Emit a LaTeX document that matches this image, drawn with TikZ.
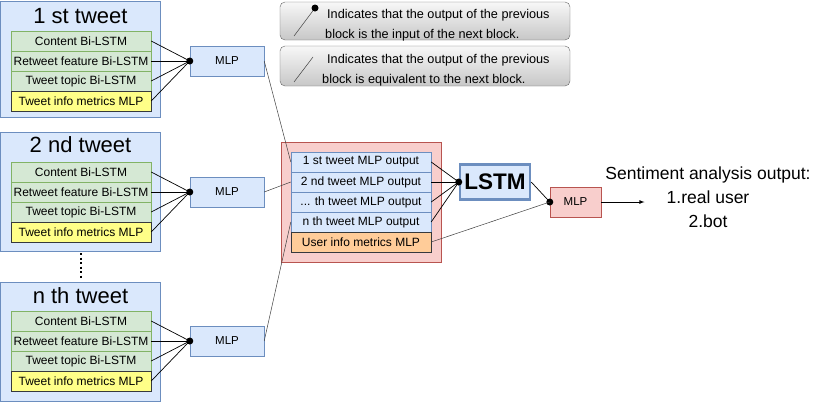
\documentclass[tikz,border=0pt]{standalone}
\usepackage{fontspec}
\setmainfont{Liberation Sans}
\usetikzlibrary{positioning,fit,arrows}
\pgfdeclarelayer{background}
\pgfsetlayers{background,main}

\definecolor{bluefill}{HTML}{DAE8FC}
\definecolor{blueline}{HTML}{6C8EBF}
\definecolor{greenfill}{HTML}{D5E8D4}
\definecolor{greenline}{HTML}{82B366}
\definecolor{yellowfill}{HTML}{FFFF88}
\definecolor{darkline}{HTML}{36393D}
\definecolor{pinkfill}{HTML}{F8CECC}
\definecolor{redline}{HTML}{B85450}
\definecolor{orangefill}{HTML}{FFCC99}

\begin{document}
\begin{tikzpicture}[x=1pt, y=-1pt,
		every node/.style={on grid},
		tweet/.style={draw=blueline, fill=bluefill, minimum width=160pt, minimum height=119pt, inner sep=0pt},
		tweettitle/.style={font=\fontsize{22}{26}\selectfont},
		rowbox/.style={draw, minimum width=140pt, minimum height=20pt, inner sep=0pt, font=\fontsize{12}{14}\selectfont},
		bilstm/.style={rowbox, draw=greenline, fill=greenfill},
		metrics/.style={rowbox, draw=darkline, fill=yellowfill},
		mlpout/.style={rowbox, draw=blueline, fill=bluefill},
		usermetrics/.style={rowbox, draw=darkline, fill=orangefill},
		mlp/.style={draw=blueline, fill=bluefill, minimum width=74pt, minimum height=30pt, font=\fontsize{11.5}{13}\selectfont},
		mlpfinal/.style={draw=redline, fill=pinkfill, minimum width=51pt, minimum height=30pt, font=\fontsize{11.5}{13}\selectfont},
		lstmbox/.style={draw=blueline, line width=2.5pt, fill=bluefill, minimum width=70pt, minimum height=35pt, inner sep=0pt, font=\bfseries\fontsize{22.5}{26}\selectfont},
		joint/.style={fill=black, circle, inner sep=0pt, minimum size=7pt},
		link/.style={draw=black!75, line width=0.5pt},
		feed/.style={draw=black, line width=0.7pt},
		ellipsisline/.style={line width=2pt, dash pattern=on 2pt off 2.5pt, shorten <=2pt, shorten >=2pt},
		legendbox/.style={draw=black!60, rounded corners=5pt, top color=black!3, bottom color=black!22, minimum width=290pt},
		legtext/.style={align=left, inner sep=0pt, font=\fontsize{12.7}{20}\selectfont},
		node distance=20pt,
		>=latex]
	\useasboundingbox (0,0) rectangle (821,402);
	
	% legend
	\node[legendbox, minimum height=38pt] (leg1) at (425,21) {};
	\node[legendbox, minimum height=40pt, below=45pt of leg1] (leg2) {};
	\node[legtext, anchor=west] (leg1txt) at (325,25) {\hspace{2pt}Indicates that the output of the previous\\block is the input of the next block.};
	\node[legtext, anchor=west] (leg2txt) at (322,70) {\hspace{5pt}Indicates that the output of the previous\\block is equivalent to the next block.};
	\coordinate (l1a) at (294,36);
	\coordinate (l1b) at (315,8);
	\coordinate (l2a) at (294,82);
	\coordinate (l2b) at (313,57);
	\draw[link] (l1a) -- (l1b);
	\node[joint] (l1dot) at (l1b) {};
	\draw[link] (l2a) -- (l2b);
	
	% 1 st tweet
	\node[tweet, minimum height=116pt] (t1) at (80.5,59) {};
	\node[tweettitle] (t1h) at (80.5,16) {1 st tweet};
	\node[bilstm] (t1c) at (81,41) {Content Bi-LSTM};
	\node[bilstm, below=of t1c] (t1r) {Retweet feature Bi-LSTM};
	\node[bilstm, below=of t1r] (t1t) {Tweet topic Bi-LSTM};
	\node[metrics, below=of t1t] (t1m) {Tweet info metrics MLP};
	\node[mlp, right=146pt of t1r] (m1) {MLP};
	\node[joint] (j1) at (m1.west) {};
	
	% 2 nd tweet
	\node[tweet] (t2) at (80.5,191.5) {};
	\node[tweettitle] (t2h) at (80.5,145) {2 nd tweet};
	\node[bilstm] (t2c) at (81,172) {Content Bi-LSTM};
	\node[bilstm, below=of t2c] (t2r) {Retweet feature Bi-LSTM};
	\node[bilstm, below=of t2r] (t2t) {Tweet topic Bi-LSTM};
	\node[metrics, below=of t2t] (t2m) {Tweet info metrics MLP};
	\node[mlp, right=146pt of t2r] (m2) {MLP};
	\node[joint] (j2) at (m2.west) {};
	
	% n th tweet
	\node[tweet] (tn) at (80.5,341.5) {};
	\node[tweettitle] (tnh) at (80.5,296) {n th tweet};
	\node[bilstm] (tnc) at (81,321) {Content Bi-LSTM};
	\node[bilstm, below=of tnc] (tnr) {Retweet feature Bi-LSTM};
	\node[bilstm, below=of tnr] (tnt) {Tweet topic Bi-LSTM};
	\node[metrics, below=of tnt] (tnm) {Tweet info metrics MLP};
	\node[mlp, right=146pt of tnr] (m3) {MLP};
	\node[joint] (j3) at (m3.west) {};
	
	\draw[ellipsisline] (t2.south) -- (tn.north);
	
	% user level
	\node[mlpout] (o1) at (361,162) {1 st tweet MLP output};
	\node[mlpout, below=of o1] (o2) {2 nd tweet MLP output};
	\node[mlpout, below=of o2] (o3) {... th tweet MLP output};
	\node[mlpout, below=of o3] (o4) {n th tweet MLP output};
	\node[usermetrics, below=of o4] (o5) {User info metrics MLP};
	\begin{pgfonlayer}{background}
		\node[draw=redline, fill=pinkfill, inner sep=10pt, fit=(o1) (o5)] (user) {};
	\end{pgfonlayer}
	
	\node[lstmbox, right=134pt of o2] (lstm) {LSTM};
	\node[joint] (j4) at (lstm.west) {};
	\node[mlpfinal, below right=20pt and 80.5pt of lstm] (mo) {MLP};
	\node[joint] (j5) at (mo.west) {};
	\coordinate[right=69pt of mo] (res);
	\node[align=center, font=\fontsize{17.5}{24}\selectfont, above right=5pt and 132.5pt of mo] (sa) {Sentiment analysis output:\\1.real user\\2.bot};
	
	\draw[feed] (t1c.east) -- (j1.center);
	\draw[feed] (t1r.east) -- (j1.center);
	\draw[feed] (t1t.east) -- (j1.center);
	\draw[feed] (t1m.east) -- (j1.center);
	\draw[feed] (t2c.east) -- (j2.center);
	\draw[feed] (t2r.east) -- (j2.center);
	\draw[feed] (t2t.east) -- (j2.center);
	\draw[feed] (t2m.east) -- (j2.center);
	\draw[feed] (tnc.east) -- (j3.center);
	\draw[feed] (tnr.east) -- (j3.center);
	\draw[feed] (tnt.east) -- (j3.center);
	\draw[feed] (tnm.east) -- (j3.center);
	
	\draw[link] (m1.east) -- (o1.west);
	\draw[link] (m2.east) -- (o2.west);
	\draw[link] (m3.east) -- (o4.west);
	
	\draw[feed] (o1.east) -- (j4.center);
	\draw[feed] (o2.east) -- (j4.center);
	\draw[feed] (o3.east) -- (j4.center);
	\draw[feed] (o4.east) -- (j4.center);
	\draw[feed] (lstm.east) -- (j5.center);
	\draw[link] (o5.east) -- (j5.center);
	\draw[->, line width=0.8pt] (mo.east) -- (res);
\end{tikzpicture}
\end{document}
